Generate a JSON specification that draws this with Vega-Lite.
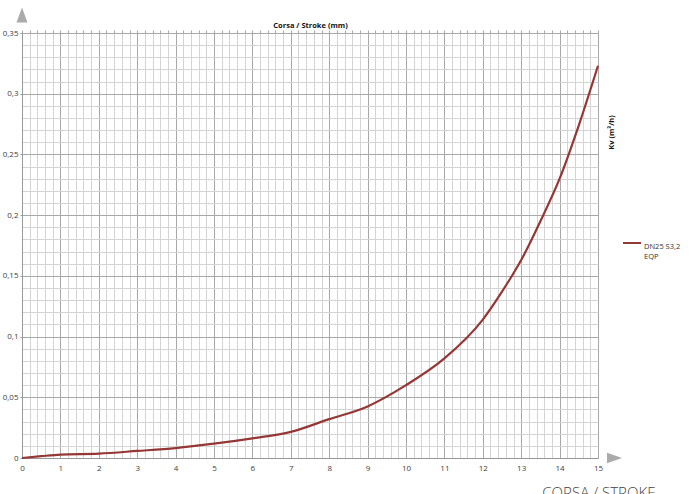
{
  "$schema": "https://vega.github.io/schema/vega-lite/v6.json",
  "width": 576,
  "height": 425,
  "autosize": {"type": "none"},
  "padding": {"left": 22, "top": 33, "right": 95, "bottom": 36},
  "background": "white",
  "config": {"view": {"stroke": null}, "font": "Open Sans"},
  "layer": [
    {
      "data": {"values": [
        {"stroke": 0, "kv": 0, "series": "DN25 S3,2 EQP"},
        {"stroke": 0.5, "kv": 0.0015, "series": "DN25 S3,2 EQP"},
        {"stroke": 1, "kv": 0.0028, "series": "DN25 S3,2 EQP"},
        {"stroke": 2, "kv": 0.0036, "series": "DN25 S3,2 EQP"},
        {"stroke": 3, "kv": 0.0058, "series": "DN25 S3,2 EQP"},
        {"stroke": 4, "kv": 0.0082, "series": "DN25 S3,2 EQP"},
        {"stroke": 5, "kv": 0.0118, "series": "DN25 S3,2 EQP"},
        {"stroke": 6, "kv": 0.0162, "series": "DN25 S3,2 EQP"},
        {"stroke": 7, "kv": 0.0215, "series": "DN25 S3,2 EQP"},
        {"stroke": 8, "kv": 0.032, "series": "DN25 S3,2 EQP"},
        {"stroke": 9, "kv": 0.0425, "series": "DN25 S3,2 EQP"},
        {"stroke": 10, "kv": 0.06, "series": "DN25 S3,2 EQP"},
        {"stroke": 11, "kv": 0.082, "series": "DN25 S3,2 EQP"},
        {"stroke": 12, "kv": 0.114, "series": "DN25 S3,2 EQP"},
        {"stroke": 12.5, "kv": 0.137, "series": "DN25 S3,2 EQP"},
        {"stroke": 13, "kv": 0.163, "series": "DN25 S3,2 EQP"},
        {"stroke": 13.5, "kv": 0.195, "series": "DN25 S3,2 EQP"},
        {"stroke": 14, "kv": 0.23, "series": "DN25 S3,2 EQP"},
        {"stroke": 14.5, "kv": 0.274, "series": "DN25 S3,2 EQP"},
        {"stroke": 15, "kv": 0.323, "series": "DN25 S3,2 EQP"}
      ]},
      "mark": {"type": "line", "interpolate": "monotone", "strokeWidth": 2.2, "clip": false},
      "encoding": {
        "x": {
          "field": "stroke", "type": "quantitative",
          "scale": {"domain": [0, 15], "nice": false, "zero": false},
          "axis": {
            "orient": "bottom",
            "values": [0,0.2,0.4,0.6,0.8,1,1.2,1.4,1.6,1.8,2,2.2,2.4,2.6,2.8,3,3.2,3.4,3.6,3.8,4,4.2,4.4,4.6,4.8,5,5.2,5.4,5.6,5.8,6,6.2,6.4,6.6,6.8,7,7.2,7.4,7.6,7.8,8,8.2,8.4,8.6,8.8,9,9.2,9.4,9.6,9.8,10,10.2,10.4,10.6,10.8,11,11.2,11.4,11.6,11.8,12,12.2,12.4,12.6,12.8,13,13.2,13.4,13.6,13.8,14,14.2,14.4,14.6,14.8,15],
            "grid": true,
            "gridColor": {"condition": {"test": "datum.value % 1 === 0", "value": "#a8a8a8"}, "value": "#d4d4d4"},
            "gridWidth": 1,
            "ticks": false,
            "labelExpr": "datum.value % 1 === 0 ? format(datum.value, 'd') : ''",
            "labelFontSize": 8,
            "labelColor": "#404040",
            "labelPadding": 6,
            "labelFlush": false,
            "labelOverlap": false,
            "domainColor": "#999999",
            "title": "CORSA / STROKE",
            "titleFontSize": 15,
            "titleFontWeight": 300,
            "titleColor": "#444444",
            "titleX": 633,
            "titleY": 39,
            "titleAlign": "right",
            "titleBaseline": "alphabetic"
          }
        },
        "y": {
          "field": "kv", "type": "quantitative",
          "scale": {"domain": [0, 0.35], "nice": false, "zero": false},
          "axis": {
            "orient": "left",
            "values": [0,0.01,0.02,0.03,0.04,0.05,0.06,0.07,0.08,0.09,0.1,0.11,0.12,0.13,0.14,0.15,0.16,0.17,0.18,0.19,0.2,0.21,0.22,0.23,0.24,0.25,0.26,0.27,0.28,0.29,0.3,0.31,0.32,0.33,0.34,0.35],
            "grid": true,
            "gridColor": {"condition": {"test": "round(datum.value*100) % 5 === 0", "value": "#a8a8a8"}, "value": "#d4d4d4"},
            "gridWidth": 1,
            "tickSize": 2,
            "tickColor": "#999999",
            "tickOpacity": {"condition": {"test": "round(datum.value*100) % 5 === 0", "value": 1}, "value": 0},
            "labelExpr": "round(datum.value*100) % 5 === 0 ? replace(format(datum.value, '~g'), '.', ',') : ''",
            "labelFontSize": 8,
            "labelColor": "#404040",
            "labelPadding": 2,
            "labelFlush": false,
            "labelOverlap": false,
            "domainColor": "#999999",
            "title": null
          }
        },
        "color": {
          "field": "series", "type": "nominal",
          "scale": {"range": ["#953735"]},
          "legend": {
            "orient": "none",
            "legendX": 600,
            "legendY": 200,
            "title": null,
            "symbolType": "stroke",
            "symbolStrokeWidth": 2,
            "symbolSize": 324,
            "labelFontSize": 7.5,
            "labelColor": "#333333",
            "labelOffset": 2,
            "labelBaseline": "top",
            "labelExpr": "['DN25 S3,2', 'EQP']"
          }
        }
      }
    },
    {
      "data": {"values": [{}]},
      "mark": {"type": "point", "shape": "M-1,-0.7L1,0L-1,0.7Z", "size": 225, "filled": true, "color": "#aaaaaa", "opacity": 1, "clip": false},
      "encoding": {
        "x": {
          "datum": 15.43, "type": "quantitative",
          "axis": {
            "orient": "top",
            "values": [0,0.2,0.4,0.6,0.8,1,1.2,1.4,1.6,1.8,2,2.2,2.4,2.6,2.8,3,3.2,3.4,3.6,3.8,4,4.2,4.4,4.6,4.8,5,5.2,5.4,5.6,5.8,6,6.2,6.4,6.6,6.8,7,7.2,7.4,7.6,7.8,8,8.2,8.4,8.6,8.8,9,9.2,9.4,9.6,9.8,10,10.2,10.4,10.6,10.8,11,11.2,11.4,11.6,11.8,12,12.2,12.4,12.6,12.8,13,13.2,13.4,13.6,13.8,14,14.2,14.4,14.6,14.8,15],
            "grid": false,
            "domain": false,
            "labels": false,
            "tickColor": "#a8a8a8",
            "tickSize": 3,
            "title": "Corsa / Stroke (mm)",
            "titleFontSize": 7.5,
            "titleFontWeight": "bold",
            "titleColor": "#111111",
            "titlePadding": 0
          }
        },
        "y": {
          "datum": 0, "type": "quantitative",
          "axis": {
            "orient": "right",
            "grid": false,
            "domain": false,
            "ticks": false,
            "labels": false,
            "title": "Kv (m³/h)",
            "titleAngle": -90,
            "titleFontSize": 7.5,
            "titleFontWeight": "bold",
            "titleColor": "#111111",
            "titlePadding": 17,
            "titleY": 99
          }
        }
      }
    },
    {
      "data": {"values": [{}]},
      "mark": {"type": "point", "shape": "M-0.73,1L0,-1L0.73,1Z", "size": 225, "filled": true, "color": "#aaaaaa", "opacity": 1, "clip": false},
      "encoding": {
        "x": {"datum": 0, "type": "quantitative", "axis": null},
        "y": {"datum": 0.3648, "type": "quantitative", "axis": null}
      }
    }
  ],
  "resolve": {"axis": {"x": "independent", "y": "independent"}}
}
